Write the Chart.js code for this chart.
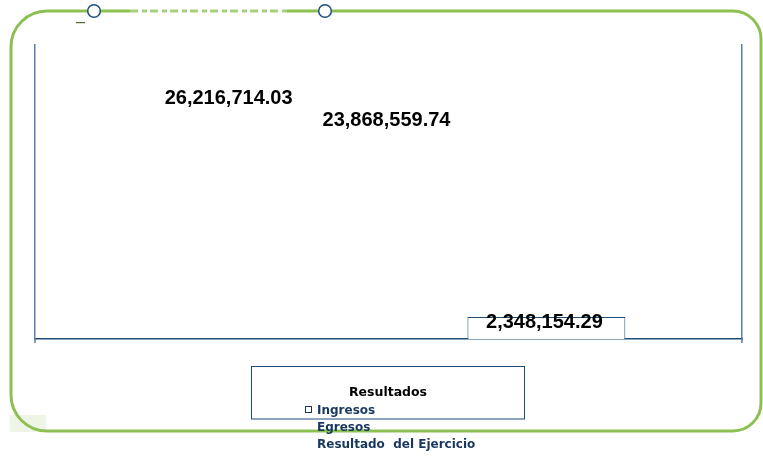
<!DOCTYPE html>
<html>
<head>
<meta charset="utf-8">
<script src="https://cdn.jsdelivr.net/npm/chart.js@4.4.1/dist/chart.umd.min.js"></script>
<style>
  html, body { margin: 0; padding: 0; background: #ffffff; }
  #wrap { width: 763px; height: 457px; position: relative; }
</style>
</head>
<body>
<div id="wrap"><canvas id="c" width="763" height="457"></canvas></div>
<script>
// ---- Data ----
const categories = ["Resultados"];
const seriesNames = ["Ingresos", "Egresos", "Resultado  del Ejercicio"];
const ingresos = [26216714.03];
const egresos = [23868559.74];
const resultado = [2348154.29];
const legendTitle = "Resultados";
const axisMax = 31400000;

const NAVY = "#1f4e79";
const TEXT_NAVY = "#17375e";
const GREEN = "#8cc152";

function fmt(v) {
  return v.toLocaleString("en-US", { minimumFractionDigits: 2, maximumFractionDigits: 2 });
}

const decoPlugin = {
  id: "deco",
  beforeDraw(chart) {
    const ctx = chart.ctx;
    ctx.save();
    // light green patch bottom-left
    ctx.fillStyle = "#eef5e6";
    ctx.fillRect(10, 415, 36, 17);
    // green rounded frame
    const x0 = 11, y0 = 11, x1 = 761, y1 = 431, rTL = 36, rTR = 28, rBR = 28, rBL = 36;
    ctx.beginPath();
    ctx.moveTo(x0 + rTL, y0);
    ctx.lineTo(x1 - rTR, y0);
    ctx.arcTo(x1, y0, x1, y0 + rTR, rTR);
    ctx.lineTo(x1, y1 - rBR);
    ctx.arcTo(x1, y1, x1 - rBR, y1, rBR);
    ctx.lineTo(x0 + rBL, y1);
    ctx.arcTo(x0, y1, x0, y1 - rBL, rBL);
    ctx.lineTo(x0, y0 + rTL);
    ctx.arcTo(x0, y0, x0 + rTL, y0, rTL);
    ctx.closePath();
    ctx.strokeStyle = GREEN;
    ctx.lineWidth = 3;
    ctx.stroke();
    // white gap on top between circles, with faded dashes
    ctx.fillStyle = "#ffffff";
    ctx.fillRect(101, 8, 217, 7);
    ctx.strokeStyle = "#a6cf7e";
    ctx.lineWidth = 3;
    ctx.setLineDash([8, 4, 5, 3]);
    ctx.beginPath();
    ctx.moveTo(130, 11);
    ctx.lineTo(287, 11);
    ctx.stroke();
    ctx.setLineDash([]);
    ctx.strokeStyle = GREEN;
    ctx.beginPath();
    ctx.moveTo(100, 11); ctx.lineTo(130, 11);
    ctx.moveTo(287, 11); ctx.lineTo(318, 11);
    ctx.stroke();
    // circles
    [[94, 11], [325, 11]].forEach(([cx, cy]) => {
      ctx.beginPath();
      ctx.arc(cx, cy, 6.3, 0, Math.PI * 2);
      ctx.fillStyle = "#ffffff";
      ctx.fill();
      ctx.strokeStyle = "#1f4e79";
      ctx.lineWidth = 1.5;
      ctx.stroke();
    });
    // small dark green mark
    ctx.fillStyle = "#4e6b2e";
    ctx.fillRect(76, 22, 9, 1.2);
    ctx.restore();
  },
  afterDatasetsDraw(chart) {
    const ctx = chart.ctx;
    const area = chart.chartArea;
    ctx.save();
    // axis tick stubs below baseline
    ctx.strokeStyle = "#5b7fa8";
    ctx.lineWidth = 1.5;
    ctx.beginPath();
    ctx.moveTo(area.left, area.bottom); ctx.lineTo(area.left, area.bottom + 4);
    ctx.moveTo(area.right, area.bottom); ctx.lineTo(area.right, area.bottom + 4);
    ctx.stroke();
    // data labels
    ctx.fillStyle = "#000000";
    ctx.font = "bold 20px 'Liberation Sans', Arial, sans-serif";
    ctx.textAlign = "center";
    ctx.textBaseline = "middle";
    chart.data.datasets.forEach((ds, i) => {
      const meta = chart.getDatasetMeta(i);
      meta.data.forEach((bar, j) => {
        ctx.fillText(fmt(ds.data[j]), bar.x - 2, bar.y + 5);
      });
    });
    ctx.restore();
  },
  afterDraw(chart) {
    const ctx = chart.ctx;
    ctx.save();
    // legend box
    ctx.strokeStyle = "#1f497d";
    ctx.lineWidth = 1;
    ctx.strokeRect(251.5, 366.5, 273, 52.5);
    ctx.textBaseline = "alphabetic";
    ctx.textAlign = "center";
    ctx.fillStyle = "#000000";
    ctx.font = "bold 12.5px 'DejaVu Sans', Verdana, sans-serif";
    ctx.fillText(legendTitle, 388, 396);
    ctx.textAlign = "left";
    ctx.fillStyle = TEXT_NAVY;
    ctx.font = "bold 12px 'DejaVu Sans', Verdana, sans-serif";
    const ys = [414, 431, 448];
    chart.data.datasets.forEach((ds, i) => {
      ctx.fillText(ds.label, 317, ys[i]);
    });
    // marker square for first item
    ctx.strokeStyle = TEXT_NAVY;
    ctx.lineWidth = 1;
    ctx.strokeRect(305.5, 406.5, 6, 6);
    ctx.restore();
  }
};

new Chart(document.getElementById("c"), {
  type: "bar",
  plugins: [decoPlugin],
  data: {
    labels: categories,
    datasets: [
      { label: seriesNames[0], data: ingresos, backgroundColor: "rgba(255,255,255,0)", borderWidth: 0 },
      { label: seriesNames[1], data: egresos, backgroundColor: "rgba(255,255,255,0)", borderWidth: 0 },
      { label: seriesNames[2], data: resultado, backgroundColor: "#ffffff", borderColor: NAVY, borderWidth: 1 }
    ]
  },
  options: {
    responsive: false,
    devicePixelRatio: 1,
    animation: false,
    events: [],
    categoryPercentage: 0.67,
    barPercentage: 1.0,
    layout: { padding: { left: 27, right: 13, top: 45, bottom: 110 } },
    plugins: { legend: { display: false }, title: { display: false }, tooltip: { enabled: false } },
    scales: {
      x: {
        display: true,
        grid: { display: false },
        ticks: { display: false },
        border: { display: true, color: NAVY, width: 1.5 }
      },
      y: {
        display: true,
        position: "left",
        min: 0, max: axisMax,
        grid: { display: false },
        ticks: { display: false },
        border: { display: true, color: "#5b7fa8", width: 1.5 }
      },
      y2: {
        display: true,
        position: "right",
        min: 0, max: axisMax,
        grid: { display: false },
        ticks: { display: false },
        border: { display: true, color: "#5b7fa8", width: 1.5 }
      }
    }
  }
});
</script>
</body>
</html>
